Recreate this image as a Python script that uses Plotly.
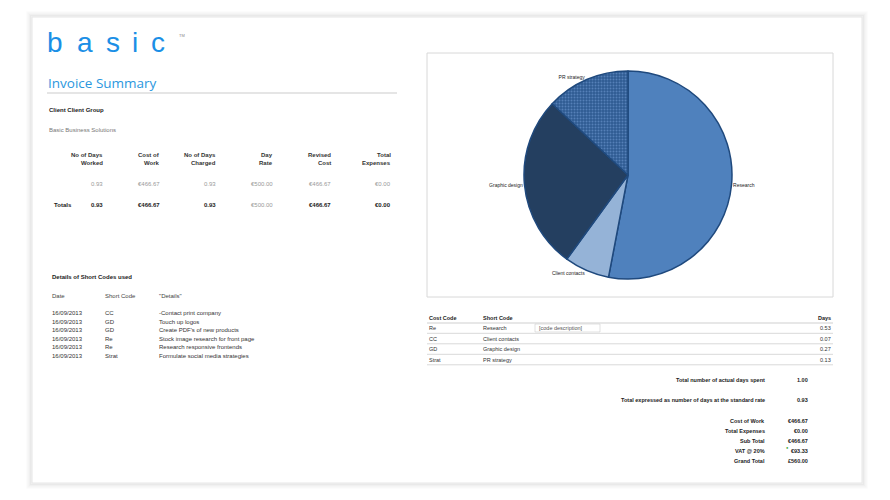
import plotly.graph_objects as go

W, H = 890, 500

# ---------------- data ----------------
logo_letters = ["b", "a", "s", "i", "c"]
pie_labels = ["Research", "Client contacts", "Graphic design", "PR strategy"]
pie_days = [0.53, 0.07, 0.27, 0.13]
cost_codes = ["Re", "CC", "GD", "Strat"]

summary_headers = [["No of Days", "Worked"], ["Cost of", "Work"], ["No of Days", "Charged"],
                   ["Day", "Rate"], ["Revised", "Cost"], ["Total", "Expenses"]]
summary_row = ["0.93", "€466.67", "0.93", "€500.00", "€466.67", "€0.00"]
totals_row = ["0.93", "€466.67", "0.93", "€500.00", "€466.67", "€0.00"]

detail_dates = ["16/09/2013"] * 6
detail_codes = ["CC", "GD", "GD", "Re", "Re", "Strat"]
detail_text = ["-Contact print company", "Touch up logos", "Create PDF's of new products",
               "Stock image research for front page", "Research responsive frontends",
               "Formulate social media strategies"]

totals_labels = ["Total number of actual days spent",
                 "Total expressed as number of days at the standard rate"]
totals_values = ["1.00", "0.93"]
money_labels = ["Cost of Work", "Total Expenses", "Sub Total", "VAT @ 20%", "Grand Total"]
money_values = ["€466.67", "€0.00", "€466.67", "€93.33", "£560.00"]

# ---------------- helpers ----------------
def px(x):
    return x / W

def py(y):
    return 1 - y / H

FONT = "Liberation Sans, Arial, sans-serif"
annotations = []
shapes = []

def txt(x, y, s, size=6, color="#333333", anchor="left", bold=False, family=FONT):
    if bold:
        s = "<b>" + s + "</b>"
    annotations.append(dict(x=px(x), y=py(y), xref="paper", yref="paper", text=s,
                            showarrow=False, xanchor=anchor, yanchor="middle",
                            font=dict(size=size, color=color, family=family)))

def line(x0, y0, x1, y1, color="#d0d0d0", width=1):
    shapes.append(dict(type="line", xref="paper", yref="paper", x0=px(x0), y0=py(y0),
                       x1=px(x1), y1=py(y1), line=dict(color=color, width=width)))

def rect(x0, y0, x1, y1, color="#d0d0d0", width=1, fill="rgba(0,0,0,0)"):
    shapes.append(dict(type="rect", xref="paper", yref="paper", x0=px(x0), y0=py(y0),
                       x1=px(x1), y1=py(y1), line=dict(color=color, width=width), fillcolor=fill,
                       layer="below"))

# page shadow
for i, a in enumerate([0.015, 0.025, 0.035, 0.05, 0.07]):
    d = 5 - i
    rect(32 - d, 17 - d, 862 + d, 483 + d, color="rgba(0,0,0,%.3f)" % a, width=1.5)
rect(32, 17, 862, 483, color="#e6e6e6", width=1, fill="white")

# logo + title
for cx, ch in zip([55, 84.5, 112.5, 134.5, 157.5], logo_letters):
    txt(cx, 43, ch, size=28, color="#1b8fe6", anchor="center")
txt(177, 35, "TM", size=4, color="#888888")
txt(46, 83, "Invoice Summary", size=13.5, color="#2b97de", family="Open Sans, sans-serif")
line(47, 93, 397, 93, color="#cccccc", width=1.2)

txt(47, 110, "Client Client Group", size=6, color="#222222", bold=True)
txt(47, 130, "Basic Business Solutions", size=6, color="#777777")

# summary table
col_x = [105, 162, 218, 275, 333, 393]
for cx, hdr, v in zip(col_x, summary_headers, summary_row):
    txt(cx, 155, hdr[0], size=6, color="#333333", anchor="right", bold=True)
    txt(cx, 163, hdr[1], size=6, color="#333333", anchor="right", bold=True)
    txt(cx, 184, v, size=6, color="#999999", anchor="right")
txt(52, 205, "Totals", size=6, color="#222222", bold=True)
for i, (cx, t) in enumerate(zip(col_x, totals_row)):
    if i == 3:
        txt(cx, 205, t, size=6, color="#999999", anchor="right")
    else:
        txt(cx, 205, t, size=6, color="#222222", anchor="right", bold=True)

# details of short codes
txt(50, 277, "Details of Short Codes used", size=6, color="#222222", bold=True)
txt(50, 296, "Date", size=6, color="#444444")
txt(103, 296, "Short Code", size=6, color="#444444")
txt(157, 296, "\"Details\"", size=6, color="#444444")
for i, (d, c, t) in enumerate(zip(detail_dates, detail_codes, detail_text)):
    y = 313 + i * 8.6
    txt(50, y, d, size=6, color="#333333")
    txt(103, y, c, size=6, color="#333333")
    txt(157, y, t, size=6, color="#333333")

# chart frame
rect(427, 53, 833, 297, color="#d8d8d8", width=1)

# cost code table
txt(427, 318, "Cost Code", size=5.5, color="#222222", bold=True)
txt(481, 318, "Short Code", size=5.5, color="#222222", bold=True)
txt(833, 318, "Days", size=5.5, color="#222222", anchor="right", bold=True)
line(427, 323, 833, 323, color="#cfcfcf")
for i, (cc, lab, d) in enumerate(zip(cost_codes, pie_labels, pie_days)):
    y = 328 + i * 10.5
    txt(427, y, cc, size=5.5, color="#333333")
    txt(481, y, lab, size=5.5, color="#333333")
    txt(833, y, "%.2f" % d, size=5.5, color="#333333", anchor="right")
    line(427, y + 5.3, 833, y + 5.3, color="#d9d9d9")
txt(537, 328, "[code description]", size=5.5, color="#555555")
rect(535, 324, 600, 332, color="#cfcfcf", width=0.6)

# totals
for i, (lab, v) in enumerate(zip(totals_labels, totals_values)):
    y = 380 + i * 20
    txt(767, y, lab, size=5.5, color="#222222", anchor="right", bold=True)
    txt(810, y, v, size=5.5, color="#222222", anchor="right", bold=True)
for i, (lab, v) in enumerate(zip(money_labels, money_values)):
    y = 421 + i * 10
    txt(767, y, lab, size=5.5, color="#222222", anchor="right", bold=True)
    txt(810, y, v, size=5.5, color="#222222", anchor="right", bold=True)
txt(787, 447, "●", size=4, color="#2ca02c", anchor="center")

# pie
cx, cy, r = 628, 175, 104
fig = go.Figure(go.Pie(
    labels=pie_labels, values=pie_days, sort=False, direction="clockwise", rotation=0,
    domain=dict(x=[px(cx - r), px(cx + r)], y=[py(cy + r), py(cy - r)]),
    marker=dict(colors=["#4f81bd", "#95b3d7", "#243f60", "#2f5b92"],
                line=dict(color="#1f497d", width=1.5),
                pattern=dict(shape=["", "", "", "."], fgcolor="#5580b8", bgcolor="#2f5b92",
                             size=3, solidity=0.35)),
    textinfo="label", textposition="outside",
    textfont=dict(size=5, color="#222222", family=FONT),
    showlegend=False, hoverinfo="label+value",
))

fig.update_layout(width=W, height=H, margin=dict(l=0, r=0, t=0, b=0),
                  paper_bgcolor="white", plot_bgcolor="white",
                  annotations=annotations, shapes=shapes)
fig.write_html("out.html", config={"displayModeBar": False},
               post_script="document.body.style.margin='0';document.body.style.overflow='hidden';")
